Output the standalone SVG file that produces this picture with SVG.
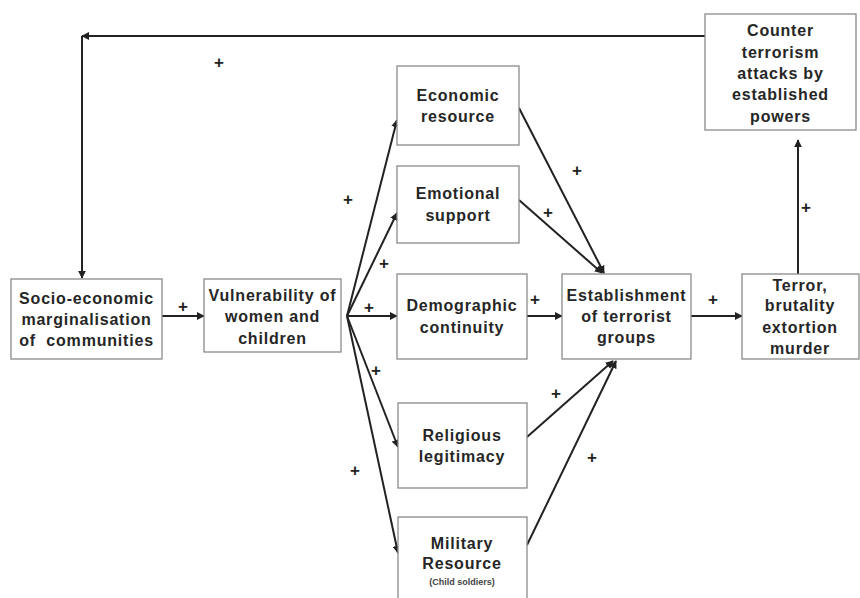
<svg xmlns="http://www.w3.org/2000/svg" width="860" height="598" viewBox="0 0 860 598">
<defs>
<marker id="ah" viewBox="0 0 10 10" refX="9" refY="5" markerWidth="4" markerHeight="4" orient="auto" markerUnits="strokeWidth">
<path d="M0,0 L10,5 L0,10 z" fill="#222"/>
</marker>
<style>
.box{fill:#fff;stroke:#8a8a8a;stroke-width:1.3}
.t{font-family:"Liberation Sans",Arial,sans-serif;font-weight:bold;font-size:16px;fill:#262626;text-anchor:middle;letter-spacing:0.8px}
.s{font-family:"Liberation Sans",Arial,sans-serif;font-weight:bold;font-size:9px;fill:#444;text-anchor:middle}
.p{font-family:"Liberation Sans",Arial,sans-serif;font-weight:bold;font-size:17px;fill:#222;text-anchor:middle}
.c{fill:none;stroke:#222;stroke-width:2;marker-end:url(#ah)}
</style>
</defs>
<rect width="860" height="598" fill="#fff"/>

<g id="connectors">
<path class="c" d="M705,36 H82"/>
<path class="c" d="M82,36 V278"/>
<path class="c" d="M162,316 H204"/>
<path class="c" d="M347,316 L397,120"/>
<path class="c" d="M347,316 L397,213"/>
<path class="c" d="M347,316 H397"/>
<path class="c" d="M347,316 L398,447"/>
<path class="c" d="M347,316 L398,553"/>
<path class="c" d="M519,108 L604,273"/>
<path class="c" d="M519,200 L602,273"/>
<path class="c" d="M527,316 H562"/>
<path class="c" d="M527,437 L613,361"/>
<path class="c" d="M527,545 L616,361"/>
<path class="c" d="M691,316 H742"/>
<path class="c" d="M798,274 V140"/>
</g>

<g id="plus">
<text class="p" x="219" y="68">+</text>
<text class="p" x="348" y="205">+</text>
<text class="p" x="384" y="269">+</text>
<text class="p" x="369" y="313">+</text>
<text class="p" x="376" y="376">+</text>
<text class="p" x="355" y="476">+</text>
<text class="p" x="183" y="312">+</text>
<text class="p" x="577" y="176">+</text>
<text class="p" x="548" y="218">+</text>
<text class="p" x="535" y="305">+</text>
<text class="p" x="556" y="399">+</text>
<text class="p" x="592" y="463">+</text>
<text class="p" x="713" y="305">+</text>
<text class="p" x="806" y="213">+</text>
</g>

<g id="counter">
<rect class="box" x="705" y="14" width="151" height="116"/>
<text class="t" x="780.5" y="36">Counter</text>
<text class="t" x="780.5" y="58">terrorism</text>
<text class="t" x="780.5" y="79">attacks by</text>
<text class="t" x="780.5" y="100">established</text>
<text class="t" x="780.5" y="122">powers</text>
</g>

<g id="economic">
<rect class="box" x="397" y="66" width="122" height="79"/>
<text class="t" x="458" y="101">Economic</text>
<text class="t" x="458" y="122">resource</text>
</g>

<g id="emotional">
<rect class="box" x="397" y="166" width="122" height="77"/>
<text class="t" x="458" y="199">Emotional</text>
<text class="t" x="458" y="221">support</text>
</g>

<g id="socio">
<rect class="box" x="11" y="279" width="151" height="80"/>
<text class="t" x="86.5" y="304">Socio-economic</text>
<text class="t" x="86.5" y="325">marginalisation</text>
<text class="t" x="86.5" y="346" xml:space="preserve">of  communities</text>
</g>

<g id="vulnerability">
<rect class="box" x="204" y="279" width="137" height="73"/>
<text class="t" x="272.5" y="301">Vulnerability of</text>
<text class="t" x="272.5" y="322">women and</text>
<text class="t" x="272.5" y="344">children</text>
</g>

<g id="demographic">
<rect class="box" x="397" y="274" width="130" height="85"/>
<text class="t" x="462" y="311">Demographic</text>
<text class="t" x="462" y="333">continuity</text>
</g>

<g id="establishment">
<rect class="box" x="562" y="274" width="129" height="85"/>
<text class="t" x="626.5" y="301">Establishment</text>
<text class="t" x="626.5" y="322">of terrorist</text>
<text class="t" x="626.5" y="343">groups</text>
</g>

<g id="terror">
<rect class="box" x="742" y="274" width="117" height="85"/>
<text class="t" x="800" y="291">Terror,</text>
<text class="t" x="800" y="311">brutality</text>
<text class="t" x="800" y="333">extortion</text>
<text class="t" x="800" y="354">murder</text>
</g>

<g id="religious">
<rect class="box" x="398" y="403" width="129" height="85"/>
<text class="t" x="462" y="441">Religious</text>
<text class="t" x="462" y="462">legitimacy</text>
</g>

<g id="military">
<rect class="box" x="398" y="517" width="129" height="90"/>
<text class="t" x="462" y="549">Military</text>
<text class="t" x="462" y="569">Resource</text>
<text class="s" x="462" y="585">(Child soldiers)</text>
</g>
</svg>
